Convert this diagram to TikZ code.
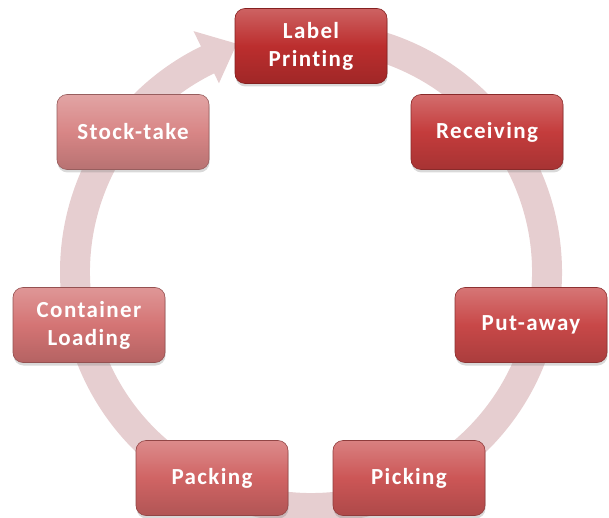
\documentclass[tikz,border=0pt]{standalone}
\usepackage{fontspec}
\setmainfont{Carlito}
\newfontfamily\stagefont[LetterSpace=6, Ligatures=NoCommon]{Carlito}
\usetikzlibrary{shadows}
\definecolor{ringpink}{RGB}{230,206,208}
\definecolor{stageA}{RGB}{188,46,46}
\definecolor{stageB}{RGB}{196,60,60}
\definecolor{stageC}{RGB}{200,72,72}
\definecolor{stageD}{RGB}{204,86,86}
\definecolor{stageE}{RGB}{208,100,100}
\definecolor{stageF}{RGB}{212,116,116}
\definecolor{stageG}{RGB}{216,134,134}
\tikzset{StageBox/.style={%
    shape=rectangle,%
    rounded corners=10pt,%
    minimum width=152pt,%
    minimum height=75pt,%
    draw=#1!70!black,%
    line width=0.6pt,%
    top color=#1!75!white,%
    bottom color=#1!85!black,%
    middle color=#1,%
    drop shadow={opacity=0.3, shadow xshift=0.5pt, shadow yshift=-3pt},%
    text=white,%
    align=center,%
    font=\stagefont\bfseries\fontsize{23}{28}\selectfont,%
}}
\tikzset{CycleRing/.style={%
    fill=ringpink,%
    draw=none,%
}}

\begin{document}
\begin{tikzpicture}[x=1pt, y=1pt]
    \useasboundingbox (0,0) rectangle (609,517);

    % background cycle arrow
    \begin{scope}[shift={(311,245)}]
        \path[CycleRing] (95:251pt) arc[start angle=95, end angle=-244, radius=251pt]
            -- (-244:268pt) -- (108:240pt) -- (-244:210pt)
            -- (-244:221pt) arc[start angle=-244, end angle=95, radius=221pt] -- cycle;
    \end{scope}

    \node[StageBox=stageA] (print) at (311,471) {Label\\Printing};
    \node[StageBox=stageB] (recv) at (487,385) {Receiving};
    \node[StageBox=stageC] (putaway) at (531,192) {Put-away};
    \node[StageBox=stageD] (pick) at (409,39) {Picking};
    \node[StageBox=stageE] (pack) at (212,39) {Packing};
    \node[StageBox=stageF] (load) at (89,192) {Container\\Loading};
    \node[StageBox=stageG] (stock) at (133,385) {Stock-take};
\end{tikzpicture}
\end{document}
